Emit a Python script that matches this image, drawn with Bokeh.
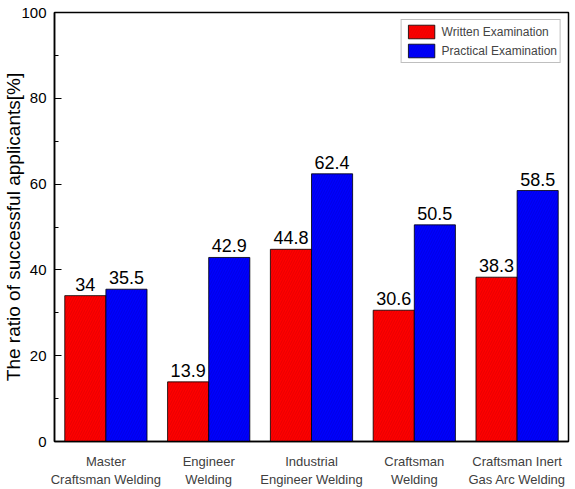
from bokeh.plotting import figure
from bokeh.models import ColumnDataSource, FixedTicker, Legend, LegendItem, Range1d
from bokeh.core.properties import value
from bokeh.embed import file_html
from bokeh.resources import INLINE

categories = ["Master\nCraftsman Welding", "Engineer\nWelding", "Industrial\nEngineer Welding",
              "Craftsman\nWelding", "Craftsman Inert\nGas Arc Welding"]
written = [34, 13.9, 44.8, 30.6, 38.3]
practical = [35.5, 42.9, 62.4, 50.5, 58.5]
y_ticks = [0, 20, 40, 60, 80, 100]

FONT = "Liberation Sans"
pos = list(range(1, len(categories) + 1))
bw = 0.4

src_w = ColumnDataSource(dict(x=[p - bw / 2 for p in pos], top=written,
                              lab=[f"{v:g}" for v in written]))
src_p = ColumnDataSource(dict(x=[p + bw / 2 for p in pos], top=practical,
                              lab=[f"{v:g}" for v in practical]))

p = figure(width=575, height=489, output_backend="svg", toolbar_location=None,
           x_range=Range1d(0.5, 5.5), y_range=Range1d(0, 100),
           min_border_left=0, min_border_right=7, min_border_top=12, min_border_bottom=48)

p.background_fill_color = "white"
p.border_fill_color = "white"
p.outline_line_color = "black"
p.outline_line_width = 1.5
p.xgrid.visible = False
p.ygrid.visible = False

rw = p.vbar(x="x", top="top", width=bw, source=src_w, fill_color="#ff0000",
            line_color="black", line_width=0.8,
            hatch_pattern="right_diagonal_line", hatch_color="#b00000",
            hatch_alpha=0.5, hatch_scale=5, hatch_weight=0.6)
rp = p.vbar(x="x", top="top", width=bw, source=src_p, fill_color="#0000ff",
            line_color="black", line_width=0.8,
            hatch_pattern="right_diagonal_line", hatch_color="#0000a0",
            hatch_alpha=0.5, hatch_scale=5, hatch_weight=0.6)

for src in (src_w, src_p):
    p.text(x="x", y="top", text="lab", source=src, text_align="center",
           text_baseline="bottom", y_offset=-5, text_font=value(FONT),
           text_font_size="18px", text_color="black")

# y axis: inward ticks with minor ticks
p.yaxis.ticker = FixedTicker(ticks=y_ticks, minor_ticks=[10, 30, 50, 70, 90])
p.yaxis.major_tick_in = 7
p.yaxis.major_tick_out = 0
p.yaxis.minor_tick_in = 4
p.yaxis.minor_tick_out = 0
p.yaxis.axis_line_width = 1.5
p.yaxis.major_tick_line_width = 1.2
p.yaxis.major_label_text_font = FONT
p.yaxis.major_label_text_font_size = "15px"
p.yaxis.major_label_text_color = "black"
p.yaxis.major_label_standoff = 8
p.yaxis.axis_label = "The ratio of successful applicants[%]"
p.yaxis.axis_label_text_font = FONT
p.yaxis.axis_label_text_font_style = "normal"
p.yaxis.axis_label_text_font_size = "19px"
p.yaxis.axis_label_text_color = "black"
p.yaxis.axis_label_standoff = -6

# x axis: category names under each group
p.xaxis.ticker = FixedTicker(ticks=pos)
p.xaxis.major_label_overrides = {i: c for i, c in zip(pos, categories)}
p.xaxis.major_tick_in = 0
p.xaxis.major_tick_out = 0
p.xaxis.minor_tick_line_color = None
p.xaxis.axis_line_width = 1.5
p.xaxis.major_label_text_font = FONT
p.xaxis.major_label_text_font_size = "13px"
p.xaxis.major_label_text_color = "#404040"
p.xaxis.major_label_standoff = 12

legend = Legend(items=[LegendItem(label="Written Examination", renderers=[rw]),
                       LegendItem(label="Practical Examination", renderers=[rp])],
                location="top_right", margin=7, padding=3, spacing=2,
                glyph_width=33, glyph_height=17, label_height=17,
                label_text_font=FONT, label_text_font_size="12px",
                label_standoff=4,
                border_line_color="#808080", border_line_width=1)
p.add_layout(legend)

open("out.html", "w").write(file_html(p, INLINE))
